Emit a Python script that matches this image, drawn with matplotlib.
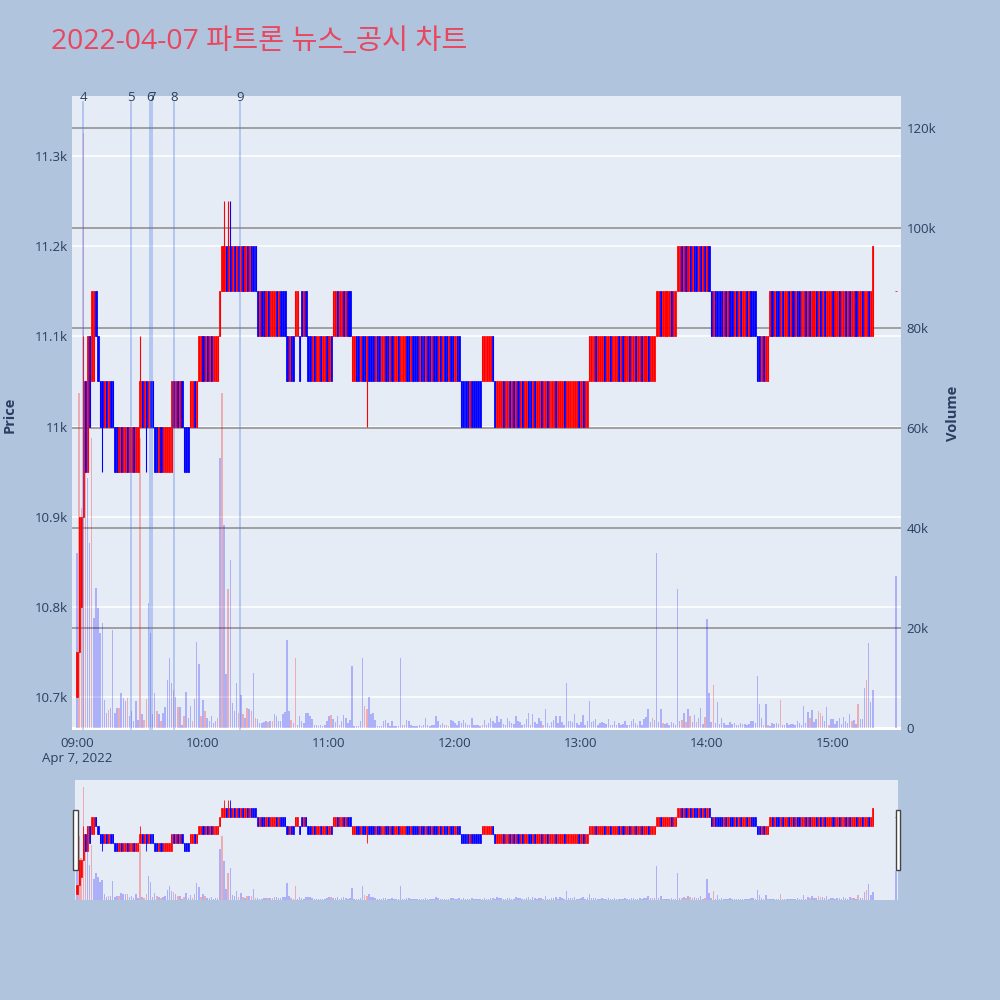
import matplotlib
matplotlib.use("Agg")
import matplotlib.pyplot as plt
import matplotlib.transforms as mtransforms
from matplotlib.patches import Rectangle

plt.rcParams['font.family'] = ['Open Sans', 'Noto Sans CJK KR', 'DejaVu Sans']

TITLE = "2022-04-07 파트론 뉴스_공시 차트"
DATE_LABEL = "Apr 7, 2022"

# minutes after 09:00 : 09:00..15:19 one-minute bars, then the 15:30 closing auction
minute_offsets = list(range(380)) + [390]

opens = [
    10700, 10750, 10800, 10900, 11050, 10950, 11100, 11050, 11050, 11150,
    11100, 11050, 11050, 11000, 11050, 11000, 11050, 11050, 11000, 11000,
    10950, 11000, 10950, 10950, 11000, 10950, 10950, 11000, 10950, 10950,
    11000, 11050, 11000, 11050, 11000, 11050, 11050, 11000, 11000, 10950,
    11000, 10950, 10950, 10950, 10950, 10950, 11050, 11000, 11050, 11000,
    11050, 11000, 11000, 11000, 11000, 11000, 11050, 11000, 11050, 11050,
    11100, 11050, 11100, 11050, 11100, 11050, 11050, 11050, 11100, 11150,
    11150, 11200, 11150, 11200, 11150, 11200, 11150, 11200, 11150, 11200,
    11150, 11200, 11150, 11200, 11200, 11200, 11150, 11100, 11150, 11150,
    11100, 11150, 11100, 11100, 11100, 11150, 11100, 11150, 11150, 11150,
    11100, 11050, 11100, 11100, 11100, 11100, 11100, 11150, 11100, 11150,
    11100, 11100, 11050, 11100, 11050, 11050, 11100, 11050, 11050, 11100,
    11050, 11100, 11100, 11100, 11150, 11100, 11100, 11150, 11100, 11150,
    11150, 11050, 11050, 11100, 11100, 11050, 11100, 11100, 11050, 11100,
    11100, 11100, 11050, 11100, 11100, 11050, 11050, 11100, 11100, 11050,
    11100, 11050, 11050, 11100, 11050, 11050, 11050, 11100, 11100, 11050,
    11100, 11100, 11100, 11050, 11100, 11100, 11050, 11100, 11100, 11050,
    11100, 11100, 11050, 11100, 11050, 11100, 11100, 11050, 11100, 11100,
    11050, 11100, 11100, 11050, 11050, 11050, 11050, 11000, 11050, 11050,
    11050, 11050, 11050, 11050, 11050, 11050, 11050, 11050, 11100, 11050,
    11000, 11000, 11000, 11050, 11000, 11000, 11050, 11000, 11050, 11000,
    11050, 11000, 11050, 11000, 11000, 11050, 11050, 11000, 11050, 11000,
    11000, 11050, 11000, 11000, 11050, 11000, 11000, 11000, 11050, 11000,
    11000, 11000, 11050, 11000, 11000, 11000, 11000, 11000, 11000, 11050,
    11000, 11050, 11000, 11000, 11050, 11050, 11050, 11100, 11050, 11050,
    11050, 11100, 11050, 11050, 11100, 11050, 11050, 11050, 11100, 11050,
    11100, 11050, 11050, 11100, 11050, 11050, 11100, 11050, 11050, 11100,
    11050, 11050, 11100, 11050, 11050, 11050, 11100, 11100, 11150, 11100,
    11100, 11100, 11100, 11150, 11100, 11100, 11150, 11150, 11200, 11150,
    11200, 11150, 11200, 11150, 11200, 11200, 11150, 11200, 11150, 11200,
    11150, 11200, 11150, 11100, 11150, 11150, 11150, 11150, 11100, 11150,
    11100, 11150, 11150, 11100, 11150, 11100, 11150, 11100, 11100, 11150,
    11100, 11150, 11150, 11150, 11100, 11100, 11050, 11100, 11050, 11050,
    11100, 11150, 11100, 11150, 11150, 11100, 11150, 11100, 11100, 11150,
    11100, 11150, 11100, 11150, 11150, 11100, 11100, 11150, 11100, 11150,
    11100, 11100, 11150, 11100, 11150, 11100, 11150, 11100, 11100, 11100,
    11150, 11100, 11100, 11150, 11100, 11100, 11150, 11100, 11150, 11100,
    11100, 11150, 11100, 11100, 11150, 11100, 11100, 11150, 11100, 11100,
    11150,
]

closes = [
    10750, 10900, 10900, 11050, 10950, 11100, 11000, 11150, 11150, 11100,
    11050, 11000, 11000, 11050, 11000, 11050, 11000, 11000, 10950, 10950,
    11000, 10950, 11000, 11000, 10950, 11000, 11000, 10950, 11000, 11000,
    11050, 11000, 11050, 11000, 11050, 11000, 11000, 10950, 10950, 11000,
    10950, 11000, 11000, 11000, 11000, 11050, 11000, 11050, 11000, 11050,
    11000, 10950, 10950, 10950, 11050, 11050, 11000, 11050, 11100, 11100,
    11050, 11100, 11050, 11100, 11050, 11100, 11100, 11100, 11150, 11200,
    11200, 11150, 11200, 11150, 11200, 11150, 11200, 11150, 11200, 11150,
    11200, 11150, 11200, 11150, 11150, 11150, 11100, 11150, 11100, 11100,
    11150, 11100, 11150, 11150, 11150, 11100, 11150, 11100, 11100, 11100,
    11050, 11100, 11050, 11050, 11150, 11150, 11050, 11100, 11150, 11100,
    11050, 11050, 11100, 11050, 11100, 11100, 11050, 11100, 11100, 11050,
    11100, 11050, 11150, 11150, 11100, 11150, 11150, 11100, 11150, 11100,
    11100, 11100, 11100, 11050, 11050, 11100, 11050, 11050, 11100, 11050,
    11050, 11050, 11100, 11050, 11050, 11100, 11100, 11050, 11050, 11100,
    11050, 11100, 11100, 11050, 11100, 11100, 11100, 11050, 11050, 11100,
    11050, 11050, 11050, 11100, 11050, 11050, 11100, 11050, 11050, 11100,
    11050, 11050, 11100, 11050, 11100, 11050, 11050, 11100, 11050, 11050,
    11100, 11050, 11050, 11000, 11000, 11000, 11000, 11050, 11000, 11000,
    11000, 11000, 11000, 11100, 11100, 11100, 11100, 11100, 11050, 11000,
    11050, 11050, 11050, 11000, 11050, 11050, 11000, 11050, 11000, 11050,
    11000, 11050, 11000, 11050, 11050, 11000, 11000, 11050, 11000, 11050,
    11050, 11000, 11050, 11050, 11000, 11050, 11050, 11050, 11000, 11050,
    11050, 11050, 11000, 11050, 11050, 11050, 11050, 11050, 11050, 11000,
    11050, 11000, 11050, 11050, 11100, 11100, 11100, 11050, 11100, 11100,
    11100, 11050, 11100, 11100, 11050, 11100, 11100, 11100, 11050, 11100,
    11050, 11100, 11100, 11050, 11100, 11100, 11050, 11100, 11100, 11050,
    11100, 11100, 11050, 11100, 11100, 11100, 11150, 11150, 11100, 11150,
    11150, 11150, 11150, 11100, 11150, 11150, 11200, 11200, 11150, 11200,
    11150, 11200, 11150, 11200, 11150, 11150, 11200, 11150, 11200, 11150,
    11200, 11150, 11100, 11150, 11100, 11100, 11100, 11100, 11150, 11100,
    11150, 11100, 11100, 11150, 11100, 11150, 11100, 11150, 11150, 11100,
    11150, 11100, 11100, 11100, 11050, 11050, 11100, 11050, 11100, 11100,
    11150, 11100, 11150, 11100, 11100, 11150, 11100, 11150, 11150, 11100,
    11150, 11100, 11150, 11100, 11100, 11150, 11150, 11100, 11150, 11100,
    11150, 11150, 11100, 11150, 11100, 11150, 11100, 11150, 11150, 11150,
    11100, 11150, 11150, 11100, 11150, 11150, 11100, 11150, 11100, 11150,
    11150, 11100, 11150, 11150, 11100, 11150, 11150, 11100, 11150, 11200,
    11150,
]

# wicks reaching beyond the body (bar index -> price)
wick_highs = {3: 11100, 30: 11100, 70: 11250, 72: 11250, 73: 11250}
wick_lows = {12: 10950, 33: 10950, 138: 11000}

volumes = [
    35000, 67000, 44000, 119000, 55000, 50000, 37000, 58000, 22000, 28000,
    24000, 19000, 21000, 5600, 3000, 3600, 4000, 19600, 3000, 4000,
    4000, 7000, 6000, 5500, 6000, 2500, 3500, 1400, 5500, 1700,
    58000, 2800, 1700, 5900, 25000, 19000, 2800, 7000, 3500, 2800,
    1400, 3100, 4200, 9700, 14000, 9000, 7600, 6200, 4200, 4200,
    700, 2400, 7200, 2100, 4500, 1400, 5900, 17300, 12900, 2400,
    5600, 3500, 2100, 1500, 2500, 1000, 1500, 2000, 54000, 67000,
    40600, 10800, 27800, 33700, 5000, 3500, 9000, 3000, 6600, 2800,
    2000, 4000, 3800, 3500, 11000, 2000, 1800, 1000, 1000, 1300,
    1500, 1300, 1500, 1500, 2800, 2500, 1500, 1500, 2800, 3200,
    17700, 3500, 1700, 1000, 14000, 700, 2500, 1400, 1000, 3000,
    3000, 2500, 1800, 700, 700, 500, 700, 400, 700, 1400,
    2500, 2700, 1900, 1300, 2500, 700, 1500, 2700, 2000, 1000,
    1700, 12500, 400, 400, 400, 1400, 14000, 4500, 3800, 6200,
    2800, 3100, 1700, 400, 400, 400, 1400, 1700, 1000, 400,
    1400, 400, 400, 400, 14000, 700, 700, 1700, 1400, 700,
    400, 500, 400, 600, 500, 700, 2000, 700, 400, 700,
    700, 2400, 1400, 700, 1000, 700, 700, 400, 1700, 1400,
    1000, 700, 1400, 1000, 1700, 1000, 700, 700, 2000, 700,
    700, 700, 400, 700, 1700, 700, 1000, 2000, 1400, 1000,
    2500, 1300, 1800, 900, 700, 2000, 1500, 1100, 800, 2500,
    1500, 1200, 700, 900, 1800, 3000, 700, 2800, 1200, 900,
    2100, 1400, 600, 3800, 1000, 500, 1200, 1600, 2400, 1000,
    2500, 1300, 700, 9000, 1500, 1400, 1300, 2800, 1000, 600,
    1200, 2600, 700, 1500, 5500, 1200, 1400, 1800, 700, 1000,
    1300, 1000, 800, 1800, 700, 600, 1400, 700, 1100, 600,
    900, 1400, 700, 600, 1400, 1900, 1000, 600, 1500, 700,
    1900, 2200, 3800, 1200, 2000, 1600, 35000, 1300, 3800, 1000,
    800, 1100, 600, 1200, 1000, 600, 27800, 1500, 1700, 3000,
    1300, 3800, 2500, 1300, 2600, 1200, 2000, 4100, 900, 2200,
    21900, 7000, 1200, 8700, 1000, 5200, 900, 2100, 1100, 700,
    700, 1200, 800, 1000, 600, 700, 1100, 800, 900, 700,
    800, 1500, 1500, 1000, 10400, 4900, 2000, 700, 4900, 700,
    500, 1100, 900, 1000, 800, 5600, 600, 700, 1000, 600,
    800, 900, 600, 1500, 1000, 700, 4500, 1100, 3200, 2000,
    3600, 1300, 1800, 3500, 3100, 2500, 1500, 4200, 700, 1800,
    1800, 900, 1500, 2100, 900, 2300, 1400, 1100, 2800, 1500,
    1600, 900, 4900, 1800, 1800, 8000, 9700, 17000, 5200, 7600,
    30500,
]

# bars whose volume is drawn in the "up" (red) colour
red_volume_bars = [1, 2, 3, 4, 7, 15, 20, 24, 30, 32, 33, 38, 40, 46, 48, 51, 55,
                   59, 61, 67, 69, 72, 77, 79, 81, 83, 85, 91, 93, 102, 104, 121,
                   125, 137, 138, 156, 176, 177, 193, 222, 274, 279, 288, 290, 292,
                   295, 299, 303, 327, 329, 335, 349, 353, 354, 358, 369, 372, 376]

news_labels = ["4", "5", "6", "7", "8", "9"]
news_times = ["09:03:00", "09:25:36", "09:34:36", "09:35:54", "09:46:18", "10:17:30"]

price_ticks = [10700, 10800, 10900, 11000, 11100, 11200, 11300]
price_tick_labels = ["10.7k", "10.8k", "10.9k", "11k", "11.1k", "11.2k", "11.3k"]
volume_ticks = [0, 20000, 40000, 60000, 80000, 100000, 120000]
volume_tick_labels = ["0", "20k", "40k", "60k", "80k", "100k", "120k"]
hour_ticks = [0, 60, 120, 180, 240, 300, 360]
hour_labels = ["09:00", "10:00", "11:00", "12:00", "13:00", "14:00", "15:00"]

# ---------------------------------------------------------------- styling
PAPER = "#B0C4DE"
PLOT_BG = "#E5ECF6"
FONT_C = "#2a3f5f"
UP = "#FF0000"
DOWN = "#0000FF"
PRICE_RANGE = (10663, 11367)
VOLUME_RANGE = (-400, 126400)


def to_minutes(t):
    h, m, s = (int(v) for v in t.split(":"))
    return (h - 9) * 60 + m + s / 60.0


highs = [max(o, c, wick_highs.get(i, o)) for i, (o, c) in enumerate(zip(opens, closes))]
lows = [min(o, c, wick_lows.get(i, o)) for i, (o, c) in enumerate(zip(opens, closes))]
candle_colors = [UP if c >= o else DOWN for o, c in zip(opens, closes)]
bodies_bottom = [min(o, c) for o, c in zip(opens, closes)]
bodies_height = [abs(c - o) for o, c in zip(opens, closes)]
vol_colors = [(1, 0, 0, 0.27) if i in red_volume_bars else (0, 0, 1, 0.25)
              for i in range(len(volumes))]


def draw_traces(ax_v, ax_p, body_lw, wick_lw):
    ax_v.bar(minute_offsets, volumes, width=0.7, color=vol_colors, linewidth=0, zorder=2)
    ax_p.vlines(minute_offsets, lows, highs, colors=candle_colors, linewidth=wick_lw, zorder=3)
    ax_p.bar(minute_offsets, bodies_height, bottom=bodies_bottom, width=0.56,
             color=candle_colors, edgecolor=candle_colors, linewidth=body_lw, zorder=4)


fig = plt.figure(figsize=(10, 10), dpi=100)
fig.patch.set_facecolor(PAPER)

# ---------------------------------------------------------------- main panel
ax_v = fig.add_axes([0.072, 0.270, 0.829, 0.634])
ax_p = ax_v.twinx()
ax_v.set_facecolor(PLOT_BG)
ax_p.patch.set_visible(False)
ax_v.yaxis.tick_right()
ax_p.yaxis.tick_left()

ax_v.set_xlim(-2.4, 392.4)
ax_v.set_ylim(*VOLUME_RANGE)
ax_p.set_ylim(*PRICE_RANGE)

for a in (ax_v, ax_p):
    for s in a.spines.values():
        s.set_visible(False)

# grids: price (white) under volume (gray), both under traces
ax_v.set_axisbelow(True)
ax_v.grid(axis='y', color='#9a9a9a', linewidth=1.3)
ax_v.grid(axis='x', visible=False)
grid_tr = mtransforms.blended_transform_factory(ax_v.transAxes, ax_p.transData)
for p in price_ticks:
    ax_v.plot([0, 1], [p, p], transform=grid_tr, color='white', linewidth=1.1, zorder=0.3)
ax_v.axhline(0, color='white', linewidth=2.2, zorder=0.6)

ax_p.set_yticks(price_ticks, price_tick_labels)
ax_v.set_yticks(volume_ticks, volume_tick_labels)
ax_v.set_xticks(hour_ticks, hour_labels)
ax_p.tick_params(axis='y', length=0, pad=3, labelsize=9.5, labelcolor=FONT_C)
ax_v.tick_params(axis='y', length=0, pad=4, labelsize=9.5, labelcolor=FONT_C)
ax_v.tick_params(axis='x', length=0, pad=5, labelsize=9.5, labelcolor=FONT_C)

draw_traces(ax_v, ax_p, body_lw=0.55, wick_lw=0.8)

# news markers
news_tr = mtransforms.blended_transform_factory(ax_p.transData, ax_p.transAxes)
for lbl, t in zip(news_labels, news_times):
    m = to_minutes(t)
    ax_p.axvline(m, ymin=0, ymax=0.99, color=(0.3, 0.45, 0.9, 0.35), linewidth=1.3, zorder=5)
    ax_p.text(m, 0.998, lbl, transform=news_tr, ha='center', va='center',
              fontsize=9.5, color=FONT_C, zorder=6)

ax_v.annotate(DATE_LABEL, xy=(0, 0), xycoords=('data', 'axes fraction'),
              xytext=(0, -20.5), textcoords='offset points', ha='center', va='center',
              fontsize=9.5, color=FONT_C)

fig.text(0.010, 0.585, "Price", rotation=90, ha='center', va='center',
         fontsize=10.5, fontweight='bold', color=FONT_C)
fig.text(0.953, 0.587, "Volume", rotation=90, ha='center', va='center',
         fontsize=10.5, fontweight='bold', color=FONT_C)
fig.text(0.051, 0.958, TITLE, ha='left', va='center', fontsize=20.4, color='#E8475F')

# ---------------------------------------------------------------- range slider
sv = fig.add_axes([0.075, 0.100, 0.823, 0.120])
sp = sv.twinx()
sv.set_facecolor(PLOT_BG)
sp.patch.set_visible(False)
sv.set_xlim(-0.95, 390.95)
sv.set_ylim(*VOLUME_RANGE)
sp.set_ylim(*PRICE_RANGE)
for a in (sv, sp):
    a.set_xticks([])
    a.set_yticks([])
    for s in a.spines.values():
        s.set_visible(False)
draw_traces(sv, sp, body_lw=0.5, wick_lw=0.6)

for x0 in (0.0732, 0.8955):
    fig.add_artist(Rectangle((x0, 0.130), 0.0045, 0.060, transform=fig.transFigure,
                             facecolor='white', edgecolor='#444444', linewidth=1.0))

fig.savefig("out.png", dpi=100, facecolor=PAPER)
